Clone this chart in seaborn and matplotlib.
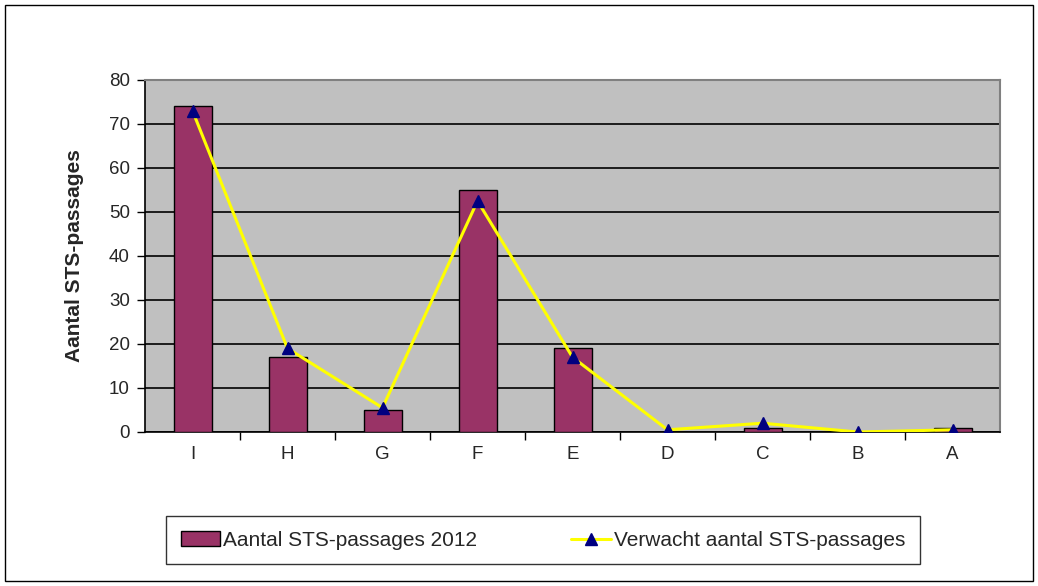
import pandas as pd
import matplotlib.pyplot as plt
import seaborn as sns
from matplotlib.patches import Rectangle
from matplotlib.lines import Line2D

# categories and values
categories = ['I', 'H', 'G', 'F', 'E', 'D', 'C', 'B', 'A']
passages_2012 = [74, 17, 5, 55, 19, 0, 1, 0, 1]
expected = [73, 19, 5.5, 52.5, 17, 0.5, 2, 0, 0.5]

df = pd.DataFrame({'cat': categories, 'passages': passages_2012, 'expected': expected})

sns.set_style('white')
plt.rcParams['font.family'] = ['Liberation Sans', 'DejaVu Sans']

fig = plt.figure(figsize=(10.38, 5.86), dpi=100)
ax = fig.add_axes([0.1397, 0.2628, 0.8237, 0.6007])
ax.set_facecolor('#c0c0c0')

sns.barplot(data=df, x='cat', y='passages', color='#993366', saturation=1,
            width=0.4, edgecolor='black', linewidth=1, ax=ax, zorder=3)
ax.plot(range(len(categories)), df['expected'], color='#ffff00', lw=2.2,
        marker='^', markersize=8, markerfacecolor='#000080',
        markeredgecolor='#000080', zorder=4)

ax.set_ylim(0, 80)
ax.set_xlim(-0.5, len(categories) - 0.5)
ax.set_yticks(range(0, 81, 10))
ax.yaxis.grid(True, color='black', lw=1.2, zorder=0)
ax.set_axisbelow(True)
for s in ['top', 'right']:
    ax.spines[s].set_color('#808080')
    ax.spines[s].set_linewidth(1.5)
for s in ['left', 'bottom']:
    ax.spines[s].set_color('black')
    ax.spines[s].set_linewidth(1.2)

ax.set_xticks([i - 0.5 for i in range(1, len(categories))], minor=True)
ax.tick_params(axis='x', which='minor', direction='out', length=6, width=1, color='black', bottom=True)
ax.tick_params(axis='x', which='major', length=0, labelsize=13.5, pad=10)
ax.tick_params(axis='y', direction='out', length=6, width=1, color='black', left=True,
               labelsize=13.5, pad=5)

ax.set_xlabel('')
ax.set_ylabel('Aantal STS-passages', fontsize=15, fontweight='bold', labelpad=18)

# legend
handles = [Rectangle((0, 0), 1, 1, facecolor='#993366', edgecolor='black'),
           Line2D([0], [0], color='#ffff00', lw=2.2, marker='^', markersize=8,
                  markerfacecolor='#000080', markeredgecolor='#000080')]
leg = fig.legend(handles, ['Aantal STS-passages 2012', 'Verwacht aantal STS-passages'],
                 loc='center', bbox_to_anchor=(0.523, 0.078), ncol=2, fontsize=15,
                 frameon=True, fancybox=False, edgecolor='black', handlelength=1.9,
                 handletextpad=0.15, columnspacing=4.5, borderpad=0.7)
leg.get_frame().set_linewidth(1)

# outer border
fig.patches.append(Rectangle((0.005, 0.009), 0.99, 0.982, transform=fig.transFigure,
                             fill=False, edgecolor='black', lw=1))

fig.savefig('out.png', dpi=100)
